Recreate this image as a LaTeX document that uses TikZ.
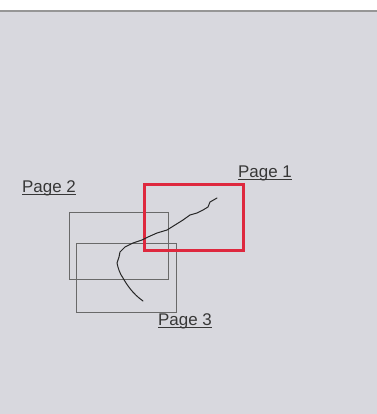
\documentclass[tikz,border=0pt]{standalone}
\usepackage{fontspec}
\setmainfont{Liberation Sans}
\definecolor{bgc}{RGB}{216,216,222}
\definecolor{boxc}{RGB}{105,105,105}
\definecolor{redc}{RGB}{222,40,62}
\definecolor{txtc}{RGB}{55,55,55}
\definecolor{linec}{RGB}{150,150,150}
\begin{document}
\begin{tikzpicture}[x=1bp,y=-1bp,
  pagebox/.style={draw=boxc,line width=1.3bp},
  redbox/.style={draw=redc,line width=3bp},
  lbl/.style={inner sep=0pt,anchor=base west,text=txtc,font=\fontsize{17}{17}\selectfont},
  uline/.style={draw=txtc,line width=1.1bp}]
\useasboundingbox (0,0) rectangle (377,414);
\fill[white] (0,0) rectangle (377,11);
\fill[bgc] (0,11) rectangle (377,414);
\draw[linec,line width=1.5bp] (0,11) -- (377,11);
% boxes
\node[pagebox,minimum width=99bp,minimum height=67bp,inner sep=0pt,anchor=north west] (p2) at (69,212) {};
\node[pagebox,minimum width=100bp,minimum height=69bp,inner sep=0pt,anchor=north west] (p3) at (76,243) {};
\node[redbox,minimum width=99bp,minimum height=66bp,inner sep=0pt,anchor=north west] (p1) at (143,183) {};
% labels
\node[lbl] (l1) at (238,177) {Page 1};
\node[lbl] (l2) at (22,192) {Page 2};
\node[lbl] (l3) at (158,325) {Page 3};
\foreach \n in {l1,l2,l3}
  \draw[uline] ([yshift=-2.5bp]\n.base west) -- ([yshift=-2.5bp]\n.base east);
% curve
\draw[black!85,line width=1bp,line join=round,line cap=round]
 (217,198) -- (210,202) -- (208,207) -- (203,210) -- (197,213) -- (190,215)
 -- (183,220) -- (175,225) -- (167,230) -- (157,233) -- (148,237) -- (142,240)
 -- (133,243) -- (125,247) -- (120,252) -- (119,257) -- (117,263)
 .. controls (118,268) and (120,274) .. (123,278)
 .. controls (127,285) and (133,294) .. (143,301);
\end{tikzpicture}
\end{document}
